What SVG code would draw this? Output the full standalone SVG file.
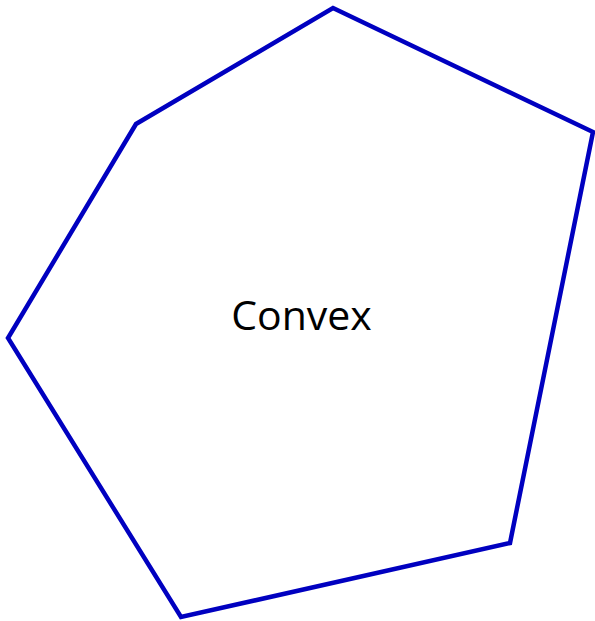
<svg xmlns="http://www.w3.org/2000/svg" width="595" height="621" viewBox="0 0 595 621">
<style>
.shape{fill:none;stroke:#0000C0;stroke-width:4.5;stroke-linejoin:miter}
.lbl{font-family:"Open Sans","Liberation Sans",sans-serif;font-size:41px;fill:#000}
</style>
<rect width="595" height="621" fill="#fff"/>
<g id="convex">
<polygon class="shape" points="333,8 593,132 510,543 181,617 8,338 136,124"/>
<text class="lbl" x="301.5" y="330" text-anchor="middle">Convex</text>
</g>
</svg>
